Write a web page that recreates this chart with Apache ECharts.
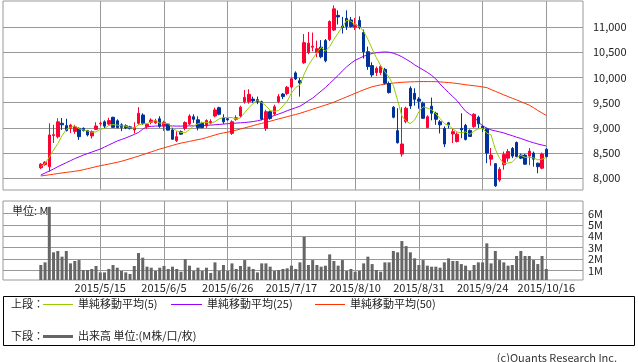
<!DOCTYPE html>
<html><head><meta charset="utf-8">
<script src="https://cdn.jsdelivr.net/npm/echarts@6/dist/echarts.min.js"></script>
<style>html,body{margin:0;padding:0;background:#fff}#c{width:638px;height:362px}</style>
</head><body><div id="c"></div>
<script>
// ---- data (trading-day index 0..119, 2015/4/21 .. 2015/10/16) ----
const open = [8210,8270,8230,8850,8825,9090,9045,8990,8930,8990, 8990,8945,8840,8970,9080,9120,9075,9210,9140,9060, 9040,9020,8960,9090,9255,9025,9110,9100,9180,9035, 9075,8960,8745,8925,8990,9075,9220,9160,9090,9040, 9095,9235,9400,9205,9180,8890,9170,9235,9520,9520, 9570,9560,9520,8990,9320,9275,9520,9670,9680,9810, 10090,9935,10290,10490,10600,10490,10600,10730,10750,10940, 11230,11020,11170,11140,10995,11130,10890,10510,10235,10095, 10095,10160,9880,9410,8945,8480,9125,9785,9685,9570, 9490,9005,9430,9290,9120,8990,9100,8880,8730,8990, 9050,8950,9025,9210,9030,8975,8380,8290,7965,8270, 8400,8590,8710,8460,8460,8440,8500,8300,8200,8575];
const close = [8280,8320,8860,8865,9120,9060,8945,9055,9020,8825, 8945,8860,8925,9037,9090,9035,9145,9010,9005,9010, 9000,8985,9005,9290,9090,9070,9155,9140,9030,9110, 8955,8775,8825,8875,9105,9235,9170,9005,9005,9145, 9125,9355,9270,9120,9160,9120,9200,9410,9605,9665, 9535,9515,9175,9320,9185,9420,9620,9620,9805,9975, 9970,9890,10690,10680,10620,10570,10410,10330,11110,11360, 11200,10990,11010,11010,11045,10995,10510,10215,10050,10180, 10215,9885,9700,9210,8705,8680,9390,9435,9565,9530, 9190,9220,9290,9170,9060,8680,9060,8925,8875,8960, 8770,8830,9270,9080,8990,8500,8460,7850,8180,8470, 8530,8440,8430,8400,8280,8540,8380,8230,8480,8430];
const low = [8185,8250,8130,8700,8790,8960,8930,8900,8880,8760, 8930,8830,8790,8960,9040,8990,9050,9000,8990,8935, 8975,8970,8890,9060,9060,8980,9070,9080,9000,8940, 8950,8760,8720,8860,8950,9050,9100,8950,8990,9000, 9070,9210,9250,9080,9140,8860,9140,9200,9480,9480, 9490,9470,9150,8940,9160,9250,9490,9570,9650,9785, 9950,9620,10270,10460,10520,10400,10380,10300,10720,10920, 11050,10870,10940,10990,10940,10955,10375,10150,10010,10030, 10050,9860,9680,9190,8690,8430,9090,9375,9440,9380, 9180,8990,9150,9060,8890,8620,8990,8700,8710,8795, 8750,8820,9000,8990,8920,8300,8250,7830,7930,8170, 8330,8400,8420,8380,8270,8260,8230,8100,8180,8410];
const high = [8300,8340,9090,9060,9190,9195,9180,9080,9060,9010, 9010,8960,8950,9110,9120,9150,9200,9220,9170,9090, 9070,9040,9110,9410,9290,9090,9190,9180,9230,9140, 9090,9000,8930,8950,9130,9270,9270,9230,9120,9170, 9170,9400,9420,9270,9200,9150,9250,9440,9750,9765, 9620,9620,9540,9360,9340,9460,9670,9690,9830,10000, 10120,9990,10860,10900,10890,10730,10740,10760,11130,11430, 11330,11200,11330,11200,11180,11210,10950,10610,10300,10215, 10250,10190,9920,9430,9390,9410,9420,9825,9785,9610, 9520,9250,9600,9320,9155,9030,9120,8990,8910,9290, 9080,8970,9290,9240,9060,9000,8600,8290,8220,8530, 8580,8620,8730,8490,8480,8600,8530,8310,8510,8600];
const volumeM = [1.47,1.70,6.58,2.58,2.70,2.20,2.70,1.61,1.82,1.90, 1.03,1.03,1.12,1.38,0.82,0.82,1.12,1.47,1.23,0.94, 0.82,0.68,1.38,2.52,2.11,1.32,1.23,0.94,1.23,1.38, 1.12,1.32,1.12,0.88,1.99,1.41,0.94,1.23,0.94,1.23, 0.77,1.70,0.94,1.47,0.94,1.61,1.12,1.38,1.90,1.32, 1.12,0.82,1.61,1.61,1.32,0.94,1.03,1.12,1.18,1.41, 1.12,1.70,3.95,1.47,1.90,1.47,1.32,1.41,2.40,1.82, 1.41,1.90,0.94,1.12,0.88,0.94,1.61,2.20,1.55,1.03, 0.88,1.70,1.70,2.70,2.58,3.57,3.13,2.58,2.05,1.47, 1.90,1.41,1.32,1.32,1.23,1.70,2.05,1.82,1.82,1.55, 1.41,0.94,1.47,1.70,1.70,3.37,1.61,2.70,1.90,1.70, 1.41,1.47,2.26,2.70,2.26,2.26,1.90,1.55,2.26,1.12];
const ma5 = [8230,8290,8420,8560,8690,8845,8970,9010,9040,8980, 8960,8940,8915,8920,8970,8990,9045,9065,9055,9040, 9035,9000,9000,9060,9075,9085,9120,9145,9095,9095, 9080,9000,8940,8910,8905,8965,9040,9080,9105,9110, 9090,9125,9180,9205,9205,9205,9175,9200,9300,9400, 9485,9545,9500,9440,9345,9325,9345,9435,9530,9690, 9800,9850,10065,10240,10370,10490,10595,10520,10610,10755, 10880,11000,11135,11115,11050,11010,10915,10755,10565,10390, 10235,10110,10005,9840,9545,9235,9135,9085,9155,9320, 9420,9390,9360,9280,9185,9085,9050,8980,8920,8900, 8920,8870,8940,8980,8990,8895,8860,8575,8395,8290, 8300,8325,8410,8455,8415,8420,8405,8365,8380,8410];
const ma25 = [8065,8105,8145,8185,8230,8270,8310,8350,8390,8425, 8460,8490,8520,8550,8580,8620,8660,8700,8740,8770, 8800,8835,8870,8910,8975,9020,9030,9035,9038,9040, 9040,9038,9035,9035,9036,9038,9040,9040,9045,9050, 9055,9062,9068,9075,9082,9090,9095,9100,9106,9115, 9125,9140,9160,9195,9215,9245,9275,9305,9340,9370, 9400,9430,9480,9540,9590,9660,9730,9800,9880,9960, 10040,10130,10210,10280,10340,10380,10420,10450,10475,10490, 10500,10505,10500,10480,10450,10410,10360,10310,10250,10200, 10150,10100,10040,9970,9870,9780,9700,9620,9540,9430, 9330,9270,9220,9120,9040,8995,8960,8940,8920,8900, 8870,8845,8815,8790,8760,8730,8705,8680,8660,8640];
const ma50 = [8046,8058,8069,8081,8095,8106,8117,8128,8140,8151, 8170,8190,8210,8230,8250,8266,8282,8300,8318,8338, 8362,8388,8414,8440,8468,8496,8524,8552,8580,8604, 8628,8652,8676,8698,8715,8732,8750,8766,8783,8808, 8833,8858,8883,8900,8916,8932,8955,8978,9000,9022, 9045,9068,9090,9110,9132,9155,9178,9200,9222,9245, 9265,9288,9315,9343,9370,9398,9425,9452,9480,9510, 9545,9580,9615,9650,9685,9720,9755,9785,9815,9835, 9852,9866,9878,9888,9896,9903,9908,9912,9915,9917, 9918,9918,9917,9916,9912,9905,9898,9890,9880,9868, 9855,9845,9835,9825,9812,9798,9760,9725,9690,9655, 9620,9587,9555,9520,9485,9450,9400,9345,9295,9245];
const tickIdx = [14,29,44,59,74,89,104,119];
const tickLabels = ['2015/5/15','2015/6/5','2015/6/26','2015/7/17','2015/8/10','2015/8/31','2015/9/24','2015/10/16'];
const priceTicks = [8000,8500,9000,9500,10000,10500,11000];
const volTicks = [1,2,3,4,5,6];

const rows = close.map((c,i)=>[i,open[i],c,low[i],high[i],volumeM[i],ma5[i],ma25[i],ma50[i]]);
const FONT = '"Noto Sans CJK JP", "Noto Sans", sans-serif';
const GRID = '#999999';
const chart = echarts.init(document.getElementById('c'), null, {renderer:'canvas'});
const lbl = {fontFamily:FONT, fontSize:11, color:'#222'};
chart.setOption({
  animation:false,
  textStyle:{fontFamily:FONT},
  dataset:{dimensions:['idx','open','close','low','high','vol','ma5','ma25','ma50'], source:rows},
  grid:[
    {left:3, right:55, top:1, height:189, show:true, borderColor:GRID, borderWidth:1},
    {left:3, right:55, top:201, height:79, show:true, borderColor:GRID, borderWidth:1}
  ],
  xAxis:[
    {gridIndex:0, type:'value', min:-8.9, max:127.64, axisLine:{show:false},
     axisTick:{show:false, customValues:tickIdx}, axisLabel:{show:false, customValues:tickIdx},
     splitLine:{show:true, lineStyle:{color:GRID, width:1}}},
    {gridIndex:1, type:'value', min:-8.9, max:127.64, axisLine:{show:false},
     axisTick:{show:false, customValues:tickIdx},
     axisLabel:Object.assign({customValues:tickIdx, margin:2, formatter:v=>tickLabels[tickIdx.indexOf(Math.round(v))]||''}, lbl),
     splitLine:{show:true, lineStyle:{color:GRID, width:1}}}
  ],
  yAxis:[
    {gridIndex:0, type:'value', position:'right', min:7768, max:11515.6, axisLine:{show:false},
     axisTick:{show:false, customValues:priceTicks},
     axisLabel:Object.assign({customValues:priceTicks, margin:10, formatter:v=>v.toLocaleString('en-US')}, lbl),
     splitLine:{show:true, lineStyle:{color:GRID, width:1}}},
    {gridIndex:1, type:'value', position:'right', min:0.15, max:7.09, axisLine:{show:false},
     axisTick:{show:false, customValues:volTicks},
     axisLabel:Object.assign({customValues:volTicks, margin:5, formatter:v=>v+'M'}, lbl),
     splitLine:{show:true, lineStyle:{color:GRID, width:1}}}
  ],
  series:[
    {type:'line', name:'MA50', xAxisIndex:0, yAxisIndex:0, encode:{x:'idx', y:'ma50'}, showSymbol:false, lineStyle:{color:'#ff3300', width:1}, z:2},
    {type:'line', name:'MA25', xAxisIndex:0, yAxisIndex:0, encode:{x:'idx', y:'ma25'}, showSymbol:false, lineStyle:{color:'#9900ff', width:1}, z:2},
    {type:'candlestick', xAxisIndex:0, yAxisIndex:0, encode:{x:'idx', y:['open','close','low','high']}, barWidth:3,
     itemStyle:{color:'#ff0033', color0:'#003399', borderColor:'#ff0033', borderColor0:'#003399', borderWidth:1}, z:3},
    {type:'line', name:'MA5', xAxisIndex:0, yAxisIndex:0, encode:{x:'idx', y:'ma5'}, showSymbol:false, lineStyle:{color:'#99cc00', width:1}, z:4},
    {type:'bar', xAxisIndex:1, yAxisIndex:1, encode:{x:'idx', y:'vol'}, barWidth:3, itemStyle:{color:'#666666'}}
  ],
  graphic:[
    {type:'text', left:12, top:205, style:{text:'単位: M', font:'11px '+FONT, fill:'#222'}},
    {type:'rect', shape:{x:3.5, y:296.5, width:631, height:49}, style:{fill:'#fff', stroke:'#000', lineWidth:1}},
    {type:'text', x:11, y:304, style:{text:'上段：', font:'11px '+FONT, fill:'#222', verticalAlign:'middle'}},
    {type:'line', shape:{x1:43, y1:304.5, x2:73, y2:304.5}, style:{stroke:'#99cc00', lineWidth:1}},
    {type:'text', x:78, y:304, style:{text:'単純移動平均(5)', font:'11px '+FONT, fill:'#222', verticalAlign:'middle'}},
    {type:'line', shape:{x1:171, y1:304.5, x2:202, y2:304.5}, style:{stroke:'#9900ff', lineWidth:1}},
    {type:'text', x:207, y:304, style:{text:'単純移動平均(25)', font:'11px '+FONT, fill:'#222', verticalAlign:'middle'}},
    {type:'line', shape:{x1:315, y1:304.5, x2:345, y2:304.5}, style:{stroke:'#ff3300', lineWidth:1}},
    {type:'text', x:350, y:304, style:{text:'単純移動平均(50)', font:'11px '+FONT, fill:'#222', verticalAlign:'middle'}},
    {type:'text', x:11, y:336, style:{text:'下段：', font:'11px '+FONT, fill:'#222', verticalAlign:'middle'}},
    {type:'line', shape:{x1:43, y1:336.5, x2:73, y2:336.5}, style:{stroke:'#666666', lineWidth:3}},
    {type:'text', x:78, y:336, style:{text:'出来高 単位:(M株/口/枚)', font:'11px '+FONT, fill:'#222', verticalAlign:'middle'}},
    {type:'text', x:617, y:358, style:{text:'(c)Quants Research Inc.', font:'11px '+FONT, fill:'#333', align:'right', verticalAlign:'middle'}}
  ]
});
</script></body></html>
